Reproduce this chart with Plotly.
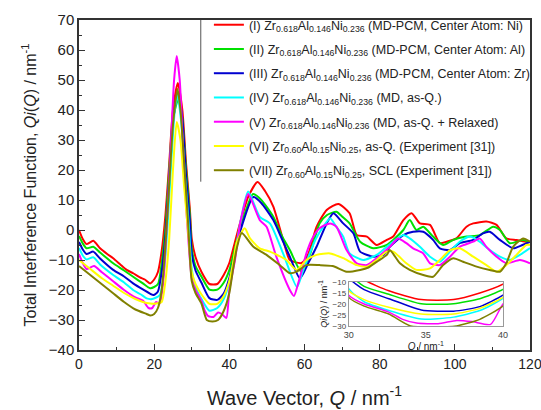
import plotly.graph_objects as go

# ---------------- data ----------------
q_I = [0,1,2,3.8,5.6,7.5,9.1,11,12.7,14.5,16.2,17.5,18.9,20,21,22,23,24,25,26.3,27.5,28.5,29.5,30,31,32.6,34.7,36.8,38.5,40,41.5,43,45,47.5,49.5,51.7,54.3,56.1,59.2,61,63.2,65.9,69,72,73.9,76.6,79.2,81.9,83.6,86.3,88.5,90.7,93.4,96,97.8,100.4,103.1,104.9,108.4,111.1,113.7,116.4,119,120]
v_I = [0,-3,-4.7,-3.6,-6.1,-8,-9.4,-11.5,-13.3,-14.5,-15.8,-16.5,-17.8,-16.5,-14,-7,5,22,40,49,40,22,7,-3,-9,-14,-18,-18,-15,-11,-4,3,11,16,13,7.8,-3.3,-10,-11,-8,1,6.7,8.7,5.6,-1.7,-2.2,-5,-3.3,-2.2,3.3,5.6,2.2,1.7,-4.4,-3.9,-2.8,1.1,2.2,2.8,1.7,-2.8,-3.3,-3.9,-4]

q_II = [0,1,2,3.8,5.6,9.1,12,14.4,17,18.9,20,21.1,22,23,24,25,26.5,27.5,28.5,29.5,30,31,32.6,34.7,36.8,38.5,40,41.5,43,46.3,48.5,51.7,54,56.1,59.2,61.5,64,66,68.5,70,72,74.8,78.3,81.9,83.6,86.3,88,89.8,91.6,94.2,96.9,99.6,103.1,106.6,110.2,112,114.6,118.2,120]
v_II = [-2,-4.5,-6.1,-5.6,-7.5,-11.1,-13.5,-15.6,-17.8,-19.4,-19,-17.8,-11,1,20,37,44,37,20,5,-6,-12,-15.6,-19.9,-19.9,-17.6,-13.4,-6,1,12,10,4.4,-2,-6.7,-14,-8,2.2,5,6.1,4.5,2.2,-3.9,-6.1,-5,-3.3,0,3.3,0,1.1,-2.2,-5,-3.3,-2.2,-1.7,1.1,0,-4.4,-3.3,-4]

q_III = [0,1,2,3.8,5.6,9.1,12,14.4,17,19.8,21,22,23,24,25,26.3,27.5,28.5,29.5,30,31,32.6,34.7,36.8,38.5,40,41.5,43,46.4,48.5,51.7,54,56.1,58.8,61,63.2,65.9,67.7,70.3,73,74.8,78.3,81,82.7,86.3,88.9,91.6,94.2,96,98.7,101.3,104.9,107.5,109.3,112,115.5,118,120]
v_III = [-4,-6.5,-8,-7.2,-9.5,-13.3,-15.5,-17.8,-19.8,-21.7,-20.5,-14,-2,17,36,46,37,18,3,-8,-13.5,-17.6,-22.7,-23.3,-21.2,-16,-8,0,11,9,3.3,-3,-8.9,-16.1,-11,-5.6,2.2,5.6,2.2,-1.1,-7.2,-8.9,-8.3,-5.6,-1.7,-0.6,-0.6,-3.3,-6.1,-6.7,-4.4,-3.3,-1.1,-0.6,-3.3,-6.1,-5,-4]

q_IV = [0,1,2,3.8,5.6,9.1,12,14.4,16.5,18,19.5,21.5,22.5,23.5,24.5,25.5,26.2,27.2,28.2,29.2,30,31,32.6,34.7,36.8,38.5,40,41.5,43,45,48.1,50.8,54.3,58,59.5,61.4,63,65,66.8,68.5,70.3,72,75.6,79.2,81.5,83.6,86.3,88,90.7,93.4,96,98.7,101.3,104,106.6,109.3,112,114.6,117.3,120]
v_IV = [-6,-8.5,-9.8,-9.1,-11.5,-15,-17.5,-20,-21.5,-22.8,-23,-21.7,-15,0,22,40,45,36,18,2,-13,-19,-23,-26.9,-26,-23,-17.5,-8,3,12.8,4.4,2.2,-7.8,-19,-14,-7.8,-3,1.1,3.9,1,-2.2,-7.8,-10,-8.3,-6,-3.9,-1.7,-2.8,-5.6,-8.9,-10.6,-7.2,-3.9,-2.2,-3.9,-6.7,-8.9,-10,-8.3,-6]

q_V = [0,1,2,4,6,9,12,15,17,18.5,19.5,20.5,21.5,22.5,23.5,24.5,25.3,26,26.8,27.6,28.4,29.2,30,31,32.6,33.5,34.4,35.8,37,38,39.2,40,41.5,43,45,48.1,49.9,52.5,56.1,57.2,58.5,60.5,62,64,66.8,68.5,71.2,73.9,76.6,79.2,82.7,84.9,87.1,88.9,91.6,93.4,96,98.7,101.3,104.9,106.6,108.4,111.1,113.7,117.3,120]
v_V = [-8,-11,-13,-12,-14,-17,-20,-22.5,-23.5,-26,-26,-24,-24.5,-16,5,30,50,58,50,30,10,-5,-16,-20,-23.7,-27,-28.7,-29,-27.5,-28,-29.3,-20,-10,3,12,3.3,1.1,-8.9,-20,-22,-17,-7.8,-3,0.6,2.2,1.1,-6.7,-11.1,-11.7,-9.4,-5.6,-2.8,-4.4,-6.1,-7.8,-11.1,-11.7,-8.9,-5.6,-3.9,-2.8,-5.6,-8.9,-11.1,-10,-11.1]

q_VI = [0,3,6,9,12,15,17,19,20.5,22,23,24,25,26,27,28,29,30,31,32.6,34.7,36.8,38.5,40,41,42,44.1,45.5,48.1,50.8,53,55.2,57.9,60.5,63.2,66.8,70.3,73.9,76.6,79.2,81.9,83.6,87.1,89.8,93.4,96,98.7,101.3,104.9,108.4,111.1,113.7,116.4,119,120]
v_VI = [-10,-13,-16,-18.5,-21,-23,-24,-24.5,-24.5,-24,-17,-3,20,36,30,14,0,-14,-18,-21.5,-24.6,-24.6,-22,-17,-11,-4,0.6,-2.8,-6.1,-7.2,-8.5,-10,-13.3,-10,-8.3,-7.8,-9.4,-11.7,-12.2,-10,-7.2,-7.2,-11.1,-13.3,-12.8,-10,-6.7,-6.1,-8.9,-11.7,-13.9,-11.7,-8.3,-5,-5]

q_VII = [0,3,6,9,12,15,18,19,20,21,22,23,24,25,26.2,27,28,29,30,31,32.6,34,35.5,37,38.5,40,41,42,43.3,46.4,49.9,53.4,56.1,57.9,60.5,64,67.5,71.2,74.8,77,79.2,81.9,82.7,85.4,88,91.6,94.2,96.9,99.6,102.2,105.8,109.3,112,113.7,115.5,118.2,120]
v_VII = [-12,-15,-18,-21,-24,-26.5,-28,-28.5,-28,-26,-20,-5,15,35,47,40,22,3,-17,-21,-24.6,-30,-30.5,-30,-27,-21,-13,-6,-1,-5.6,-8.3,-11.7,-14.4,-13.9,-11.7,-11.7,-12,-13.9,-13.3,-12.5,-10.6,-8.3,-6.7,-11.1,-13.3,-15,-15.6,-11.7,-9.4,-10.6,-12.2,-13.3,-13.9,-11.1,-5.6,-2.8,-3.9]

names = [
    "(I) Zr<sub>0.618</sub>Al<sub>0.146</sub>Ni<sub>0.236</sub> (MD-PCM, Center Atom: Ni)",
    "(II) Zr<sub>0.618</sub>Al<sub>0.146</sub>Ni<sub>0.236</sub> (MD-PCM, Center Atom: Al)",
    "(III) Zr<sub>0.618</sub>Al<sub>0.146</sub>Ni<sub>0.236</sub> (MD-PCM, Center Atom: Zr)",
    "(IV) Zr<sub>0.618</sub>Al<sub>0.146</sub>Ni<sub>0.236</sub> (MD, as-Q.)",
    "(V) Zr<sub>0.618</sub>Al<sub>0.146</sub>Ni<sub>0.236</sub> (MD, as-Q. + Relaxed)",
    "(VI) Zr<sub>0.60</sub>Al<sub>0.15</sub>Ni<sub>0.25</sub>, as-Q. (Experiment [31])",
    "(VII) Zr<sub>0.60</sub>Al<sub>0.15</sub>Ni<sub>0.25</sub>, SCL (Experiment [31])",
]
colors = ["#ff0000", "#00e000", "#0000d0", "#00ffff", "#ff00ff", "#ffff00", "#808000"]

series = [(q_I, v_I), (q_II, v_II), (q_III, v_III), (q_IV, v_IV),
          (q_V, v_V), (q_VI, v_VI), (q_VII, v_VII)]

FONT = "Liberation Sans, Arial, sans-serif"
fig = go.Figure()

for i, ((q, v), n, c) in enumerate(zip(series, names, colors)):
    fig.add_trace(go.Scatter(x=q, y=v, name=n, mode="lines", legendgroup=f"g{i}",
                             line=dict(color=c, width=2, shape="spline", smoothing=0.6),
                             xaxis="x", yaxis="y"))
for i, ((q, v), n, c) in enumerate(zip(series, names, colors)):
    fig.add_trace(go.Scatter(x=q, y=v, name=n, mode="lines", showlegend=False,
                             legendgroup=f"g{i}",
                             line=dict(color=c, width=1.5, shape="spline", smoothing=0.6),
                             xaxis="x2", yaxis="y2"))

axcol = "#333333"
fig.update_layout(
    width=541, height=410,
    margin=dict(l=79, r=11, t=20, b=60, autoexpand=False),
    paper_bgcolor="white", plot_bgcolor="white",
    font=dict(family=FONT, color="#222222"),
    showlegend=True,
    legend=dict(x=0.288, y=1.03, xanchor="left", yanchor="top",
                bgcolor="rgba(0,0,0,0)", borderwidth=0,
                font=dict(size=12.5, family=FONT, color="#222222"),
                tracegroupgap=5, groupclick="toggleitem"),
    shapes=[dict(type="line", xref="paper", yref="paper", x0=0.27, x1=0.27,
                 y0=0.51, y1=1.0, line=dict(color="#555555", width=1))],
    xaxis=dict(range=[0, 120], dtick=20, tick0=0, ticks="inside", ticklen=6,
               tickcolor=axcol, showline=True, linecolor=axcol, linewidth=1.5,
               mirror=True, showgrid=False, zeroline=False, automargin=False,
               ticklabeloverflow="allow",
               minor=dict(dtick=10, ticks="inside", ticklen=3, tickcolor=axcol),
               tickfont=dict(size=14),
               title=dict(text="Wave Vector, <i>Q</i> / nm<sup>-1</sup>",
                          font=dict(size=20), standoff=20)),
    yaxis=dict(range=[-40, 70], dtick=10, tick0=0, ticks="inside", ticklen=6,
               tickcolor=axcol, showline=True, linecolor=axcol, linewidth=1.5,
               mirror=True, showgrid=False, zeroline=False, automargin=False,
               ticklabeloverflow="allow",
               minor=dict(dtick=5, ticks="inside", ticklen=3, tickcolor=axcol),
               tickfont=dict(size=15),
               title=dict(text="Total Interference Function, <i>Qi</i>(<i>Q</i>) / nm<sup>-1</sup>",
                          font=dict(size=16), standoff=8)),
    xaxis2=dict(domain=[0.598, 0.940], anchor="y2", range=[30, 40],
                tickvals=[30, 35, 40], ticks="", showline=True, linecolor="#999999",
                linewidth=1, mirror=True, showgrid=False, zeroline=False,
                tickfont=dict(size=9, color="#444444"),
                title=dict(text="<i>Q</i> / nm<sup>-1</sup>", font=dict(size=10), standoff=0)),
    yaxis2=dict(domain=[0.073, 0.206], anchor="x2", range=[-30, -10],
                tickvals=[-10, -15, -20, -25, -30], ticks="", showline=True,
                linecolor="#999999", linewidth=1, mirror=True, showgrid=False,
                zeroline=False, tickfont=dict(size=8, color="#444444"),
                title=dict(text="<i>Qi</i>(<i>Q</i>) / nm<sup>-1</sup>", font=dict(size=9), standoff=3)),
)

fig.write_html("out.html")
